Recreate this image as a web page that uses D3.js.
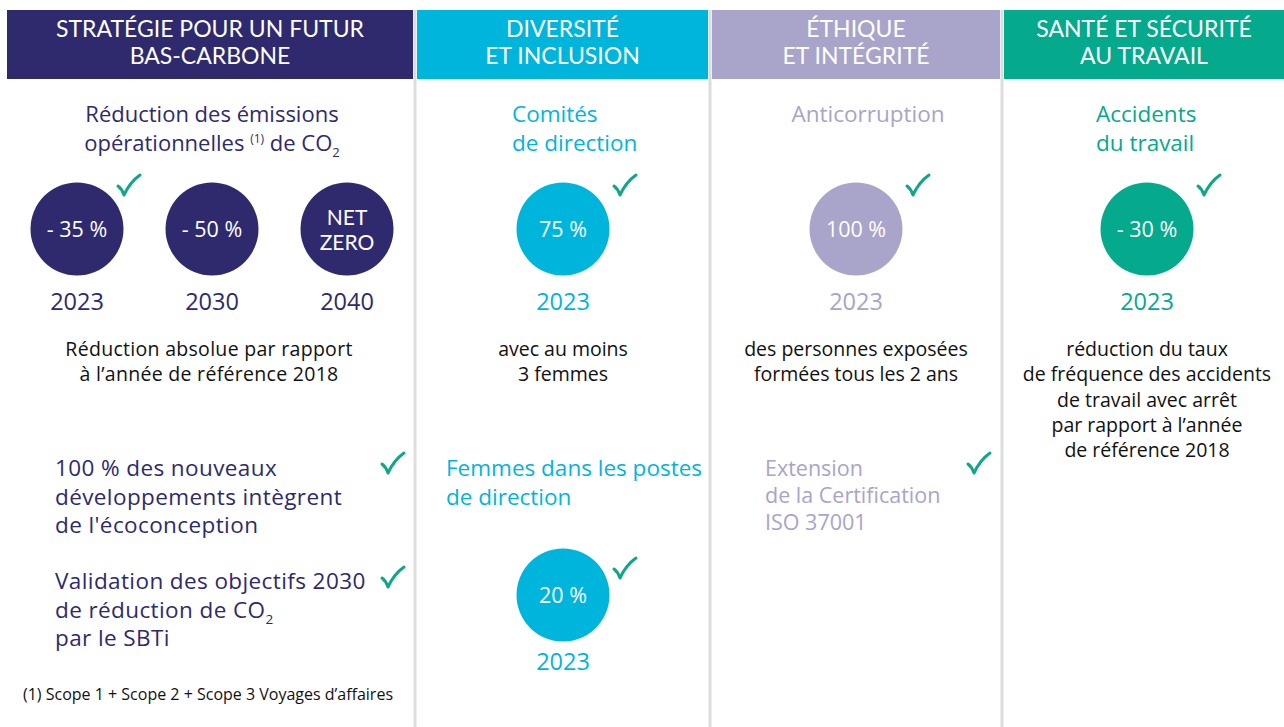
<!DOCTYPE html>
<html>
<head>
<meta charset="utf-8">
<script src="https://cdnjs.cloudflare.com/ajax/libs/d3/7.8.5/d3.min.js"></script>
<style>
  body { margin: 0; background: #fff; }
  text { font-family: "Open Sans", "Lato", sans-serif; font-weight: 500; }
  text.head { font-family: "Lato", sans-serif; font-weight: 400; }
</style>
</head>
<body>
<div id="chart"></div>
<script>
// ----- Data -----
const pillarTitles = [
    ["STRATÉGIE POUR UN FUTUR", "BAS-CARBONE"],
    ["DIVERSITÉ", "ET INCLUSION"],
    ["ÉTHIQUE", "ET INTÉGRITÉ"],
    ["SANTÉ ET SÉCURITÉ", "AU TRAVAIL"]
];
const pillarColors = ["#2e2a6d", "#00b5dc", "#a9a4c9", "#05a98b"];

// CO2 targets (column 1)
const co2Values = [["- 35 %"], ["- 50 %"], ["NET", "ZERO"]];
const co2Years = ["2023", "2030", "2040"];
const co2Achieved = [true, false, false];

// KPI circles of columns 2-4
const kpiTitles = [["Comités", "de direction"], ["Anticorruption"], ["Accidents", "du travail"]];
const kpiValues = ["75 %", "100 %", "- 30 %"];
const kpiYears = ["2023", "2023", "2023"];
const kpiNotes = [
    ["avec au moins", "3 femmes"],
    ["des personnes exposées", "formées tous les 2 ans"],
    ["réduction du taux", "de fréquence des accidents", "de travail avec arrêt", "par rapport à l\u2019année", "de référence 2018"]
];

// Lower items
const ecoItems = [
    ["100 % des nouveaux", "développements intègrent", "de l'écoconception"],
    ["Validation des objectifs 2030", "de réduction de CO|2", "par le SBTi"]
];
const womenTitle = ["Femmes dans les postes", "de direction"];
const womenValue = "20 %";
const womenYear = "2023";
const isoItem = ["Extension", "de la Certification", "ISO 37001"];
const footnote = "(1) Scope 1 + Scope 2 + Scope 3 Voyages d\u2019affaires";

// ----- Layout -----
const width = 1284, height = 727;
const colEdges = [[7, 413], [417, 708], [712, 1000], [1004, 1284]];
const checkColor = "#10a789";
const noteColor = "#111";

const svg = d3.select("#chart").append("svg")
    .attr("width", width)
    .attr("height", height);

// vertical dividers
svg.selectAll(".divider")
    .data([415, 710, 1002])
    .enter().append("line")
    .attr("x1", d => d).attr("x2", d => d)
    .attr("y1", 10).attr("y2", height)
    .attr("stroke", "#dddddd")
    .attr("stroke-width", 3);

// headers
const headers = svg.selectAll(".header")
    .data(pillarTitles)
    .enter().append("g")
    .attr("class", "header");

headers.append("rect")
    .attr("x", (d, i) => colEdges[i][0])
    .attr("y", 10)
    .attr("width", (d, i) => colEdges[i][1] - colEdges[i][0])
    .attr("height", 69)
    .attr("fill", (d, i) => pillarColors[i]);

headers.append("text")
    .attr("class", "head")
    .attr("text-anchor", "middle")
    .attr("fill", "#fff")
    .style("font-size", "23px")
    .each(function(lines, i) {
        const cx = (colEdges[i][0] + colEdges[i][1]) / 2;
        lines.forEach((l, j) => {
            d3.select(this).append("tspan")
                .attr("x", cx)
                .attr("y", 37 + j * 27)
                .text(l);
        });
    });

// helper for checkmarks
function check(x, y) {
    svg.append("path")
        .attr("d", `M${x},${y + 11} Q${x + 4},${y + 14} ${x + 6},${y + 20} Q${x + 12},${y + 7} ${x + 22},${y}`)
        .attr("fill", "none")
        .attr("stroke", checkColor)
        .attr("stroke-width", 3)
        .attr("stroke-linecap", "round")
        .attr("stroke-linejoin", "round");
}

// multi-line text block, one text element per block
function lines(arr, x, y0, step, opts) {
    const t = svg.append("text")
        .attr("text-anchor", opts.anchor || "middle")
        .attr("fill", opts.color)
        .style("font-size", opts.size + "px")
        .style("letter-spacing", (opts.ls || 0) + "px");
    arr.forEach((l, j) => {
        const parts = l.split("|");
        t.append("tspan")
            .attr("x", x)
            .attr("y", y0 + j * step)
            .text(parts[0]);
        if (parts[1]) {
            t.append("tspan").attr("dy", 6).style("font-size", (opts.size * 0.6) + "px").text(parts[1]);
        }
    });
    return t;
}

// ----- Column 1: CO2 -----
const navy = pillarColors[0];
svg.append("text")
    .attr("x", 212).attr("y", 122)
    .attr("text-anchor", "middle")
    .attr("fill", navy)
    .style("font-size", "22px")
    .text("Réduction des émissions");
const t2 = svg.append("text")
    .attr("x", 212).attr("y", 151)
    .attr("text-anchor", "middle")
    .attr("fill", navy)
    .style("font-size", "22px");
t2.append("tspan").text("opérationnelles ");
t2.append("tspan").attr("dy", -8).style("font-size", "12px").text("(1)");
t2.append("tspan").attr("dy", 8).text(" de CO");
t2.append("tspan").attr("dy", 6).style("font-size", "13px").text("2");

const xCo2 = d3.scalePoint()
    .domain(co2Years)
    .range([77, 347]);

const co2 = svg.selectAll(".co2")
    .data(co2Years)
    .enter().append("g")
    .attr("class", "co2");

co2.append("circle")
    .attr("cx", d => xCo2(d))
    .attr("cy", 229)
    .attr("r", 46.5)
    .attr("fill", navy);

co2.each(function(year, i) {
    const v = co2Values[i];
    const multi = v.length > 1;
    const t = d3.select(this).append("text")
        .attr("class", multi ? "head" : null)
        .attr("text-anchor", "middle")
        .attr("fill", "#fff")
        .style("font-size", multi ? "21px" : "21.5px");
    v.forEach((l, j) => {
        t.append("tspan")
            .attr("x", xCo2(year))
            .attr("y", 229 + 8 + (j - (v.length - 1) / 2) * 25)
            .text(l);
    });
    if (co2Achieved[i]) check(xCo2(year) + 41, 175);
});

co2.append("text")
    .attr("x", d => xCo2(d))
    .attr("y", 310)
    .attr("text-anchor", "middle")
    .attr("fill", navy)
    .style("font-size", "23.5px")
    .text(d => d);

lines(["Réduction absolue par rapport", "à l\u2019année de référence 2018"], 209, 356, 25, { color: noteColor, size: 19.5, ls: 0.3 });

// eco items
ecoItems.forEach((item, i) => {
    lines(item, 55, 476 + i * 113, 28.5, { color: navy, size: 22.5, anchor: "start", ls: 0.4 });
    check(382, 453 + i * 114);
});

svg.append("text")
    .attr("x", 23).attr("y", 700)
    .attr("fill", noteColor)
    .style("font-size", "16px")
    .text(footnote);

// ----- Columns 2-4 KPI -----
const kpiX = [563, 856, 1147];
kpiValues.forEach((v, i) => {
    const c = pillarColors[i + 1];
    const cx = kpiX[i];
    if (i === 1) {
        lines(kpiTitles[i], cx + 12, 122, 29, { color: c, size: 22.5 });
    } else {
        lines(kpiTitles[i], cx - 51, 122, 29, { color: c, size: 22.5, anchor: "start" });
    }
    svg.append("circle")
        .attr("cx", cx).attr("cy", 229).attr("r", 46.5)
        .attr("fill", c);
    svg.append("text")
        .attr("x", cx).attr("y", 237)
        .attr("text-anchor", "middle")
        .attr("fill", "#fff")
        .style("font-size", "21.5px")
        .text(v);
    check(cx + 51, 175);
    svg.append("text")
        .attr("x", cx).attr("y", 310)
        .attr("text-anchor", "middle")
        .attr("fill", c)
        .style("font-size", "23.5px")
        .text(kpiYears[i]);
    lines(kpiNotes[i], cx, 356, 25.3, { color: noteColor, size: 19.5 });
});

// women in leadership
const cyan = pillarColors[1];
lines(womenTitle, 446, 476, 28.5, { color: cyan, size: 22.5, anchor: "start" });
svg.append("circle")
    .attr("cx", 563).attr("cy", 595).attr("r", 46.5)
    .attr("fill", cyan);
svg.append("text")
    .attr("x", 563).attr("y", 603)
    .attr("text-anchor", "middle")
    .attr("fill", "#fff")
    .style("font-size", "21.5px")
    .text(womenValue);
check(614, 558);
svg.append("text")
    .attr("x", 563).attr("y", 670)
    .attr("text-anchor", "middle")
    .attr("fill", cyan)
    .style("font-size", "23.5px")
    .text(womenYear);

// ISO
lines(isoItem, 765, 476, 27, { color: pillarColors[2], size: 21.5, anchor: "start" });
check(968, 453);
</script>
</body>
</html>
